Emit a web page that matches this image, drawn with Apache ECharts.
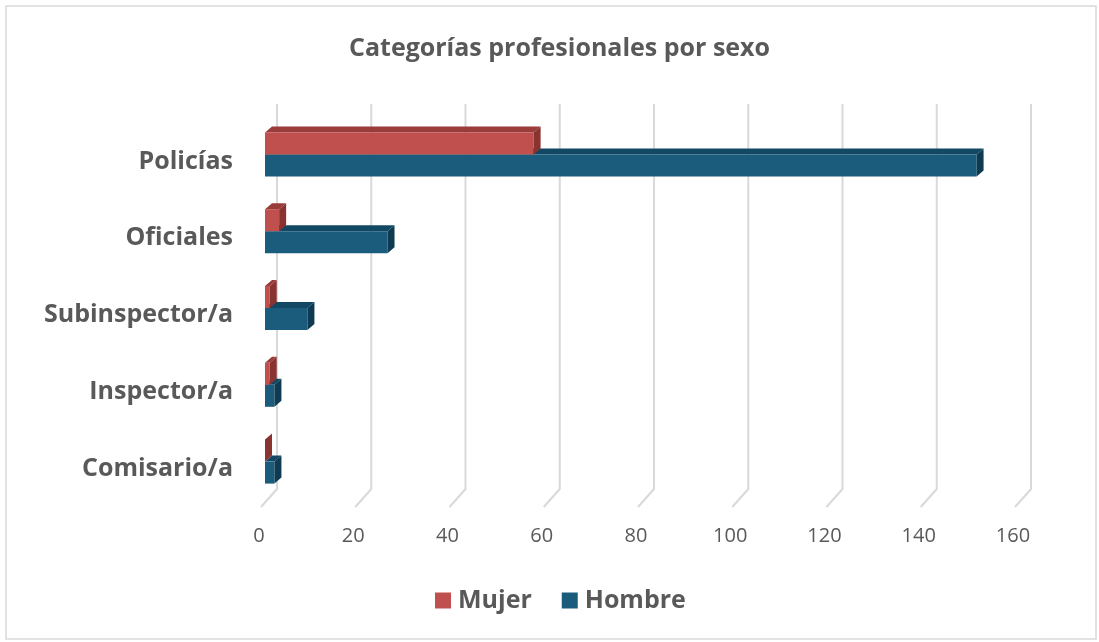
<!DOCTYPE html>
<html>
<head>
<meta charset="utf-8">
<script src="https://cdn.jsdelivr.net/npm/echarts@6/dist/echarts.min.js"></script>
<style>
  html, body { margin: 0; padding: 0; background: #fff; }
  #chart { width: 1099px; height: 642px; }
</style>
</head>
<body>
<div id="chart"></div>
<script>
// datos
const categorias = ['Policías', 'Oficiales', 'Subinspector/a', 'Inspector/a', 'Comisario/a'];
const mujer = [57, 3, 1, 1, 0];
const hombre = [151, 26, 9, 2, 2];
const ticks = [0, 20, 40, 60, 80, 100, 120, 140, 160];

const FONT = '"Open Sans", "Noto Sans", sans-serif';
const GRIS = '#595959';

// desplazamiento de profundidad (efecto 3D)
const DX = 7, DY = -6;

function barra3d(colores, arriba) {
  return function (params, api) {
    const i = api.value(0);
    const v = api.value(1);
    const p0 = api.coord([0, i]);
    const p1 = api.coord([v, i]);
    const x0 = p0[0] + 4;
    const x1 = p1[0] + 4;
    const c = p0[1];
    const y0 = arriba ? c - 29 : c - 7;
    const y1 = arriba ? c - 7 : c + 15;
    const hijos = [];
    if (x1 > x0) {
      hijos.push({
        type: 'polygon',
        shape: { points: [[x0, y0], [x0 + DX, y0 + DY], [x1 + DX, y0 + DY], [x1, y0]] },
        style: { fill: colores.top }
      });
      hijos.push({
        type: 'rect',
        shape: { x: x0, y: y0, width: x1 - x0, height: y1 - y0 },
        style: { fill: colores.front }
      });
    }
    hijos.push({
      type: 'polygon',
      shape: { points: [[x1, y0], [x1 + DX, y0 + DY], [x1 + DX, y1 + DY], [x1, y1]] },
      style: { fill: colores.side }
    });
    return { type: 'group', children: hijos };
  };
}

const chart = echarts.init(document.getElementById('chart'));
chart.setOption({
  animation: false,
  backgroundColor: '#fff',
  title: {
    text: 'Categorías profesionales por sexo',
    left: 344,
    top: 31,
    textStyle: { fontFamily: FONT, fontSize: 25, fontWeight: 'bold', color: GRIS }
  },
  legend: {
    data: ['Mujer', 'Hombre'],
    bottom: 24,
    left: 430,
    icon: 'rect',
    itemWidth: 16,
    itemHeight: 16,
    itemGap: 30,
    textStyle: { fontFamily: FONT, fontSize: 25, fontWeight: 'bold', color: GRIS, padding: [0, 0, 0, 2] }
  },
  grid: { left: 261, right: 84, top: 123, height: 384 },
  xAxis: {
    type: 'value',
    min: 0,
    max: 160,
    interval: 20,
    axisLine: { show: false },
    axisTick: { show: false },
    splitLine: { show: false },
    axisLabel: { fontFamily: FONT, fontSize: 20, color: GRIS, margin: 19, padding: [0, 4, 0, 0] }
  },
  yAxis: {
    type: 'category',
    data: categorias,
    inverse: true,
    axisLine: { show: false },
    axisTick: { show: false },
    axisLabel: { fontFamily: FONT, fontSize: 25, fontWeight: 'bold', color: GRIS, margin: 28 }
  },
  graphic: [{
    type: 'rect',
    shape: { x: 6, y: 6, width: 1090, height: 633 },
    style: { fill: 'none', stroke: '#d9d9d9', lineWidth: 1.5 },
    silent: true
  }],
  series: [
    {
      name: 'rejilla',
      type: 'custom',
      silent: true,
      z: 1,
      data: ticks.map(t => [t]),
      encode: { x: 0 },
      renderItem: function (params, api) {
        const cs = params.coordSys;
        const x = api.coord([api.value(0), 0])[0];
        const fondo = cs.y + cs.height - 18;
        return {
          type: 'polyline',
          shape: { points: [[x + 16, 104], [x + 16, fondo], [x, cs.y + cs.height]] },
          style: { stroke: '#d9d9d9', lineWidth: 2, fill: 'none' }
        };
      }
    },
    {
      name: 'Hombre',
      type: 'custom',
      z: 2,
      itemStyle: { color: '#1B5C7C' },
      data: hombre.map((v, i) => [i, v]),
      encode: { y: 0, x: 1 },
      renderItem: barra3d({ front: '#1B5C7C', top: '#134864', side: '#0E3B52' }, false)
    },
    {
      name: 'Mujer',
      type: 'custom',
      z: 3,
      itemStyle: { color: '#C0504D' },
      data: mujer.map((v, i) => [i, v]),
      encode: { y: 0, x: 1 },
      renderItem: barra3d({ front: '#C0504D', top: '#9A3D3A', side: '#8A3431' }, true)
    }
  ]
});
</script>
</body>
</html>
